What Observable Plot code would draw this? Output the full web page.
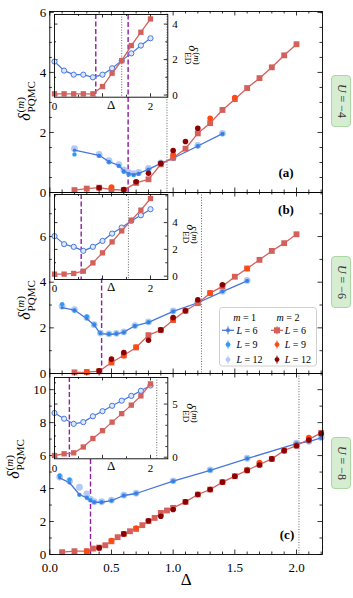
<!DOCTYPE html>
<html><head><meta charset="utf-8">
<script src="https://cdn.jsdelivr.net/npm/d3@7"></script>
<script src="https://cdn.jsdelivr.net/npm/@observablehq/plot@0.6"></script>
<style>
html,body{margin:0;padding:0;background:#fff;}
#fig{position:relative;width:353px;height:598px;overflow:hidden;font-family:"Liberation Serif","DejaVu Serif",serif;color:#000;}
.layer{position:absolute;}
.layer svg{overflow:visible;display:block;font-family:"Liberation Serif","DejaVu Serif",serif !important;}
.layer svg text{font-family:"Liberation Serif","DejaVu Serif",serif;}
.lbl{position:absolute;white-space:nowrap;line-height:1;}
.rotL{transform:translate(-50%,-50%) rotate(-90deg);}
.rotR{transform:translate(-50%,-50%) rotate(90deg);}
.dl{font-style:italic;}
.stk{display:inline-flex;flex-direction:column;line-height:1;margin-left:1px;}
.main .dl{font-size:16px;}
.main .stk{font-size:11px;vertical-align:6px;}
.ins .dl{font-size:13px;}
.ins .stk{font-size:9px;vertical-align:5px;}
.ubox{position:absolute;left:331px;width:20px;height:52px;background:#d6edd1;border:1px solid #abd7a2;border-radius:4px;box-sizing:border-box;}
.ut{position:absolute;left:50%;top:50%;transform:translate(-50%,-50%) rotate(90deg);white-space:nowrap;font-size:12px;color:#333;}
.plab{position:absolute;transform:translate(-50%,-50%);font-weight:bold;font-size:13px;white-space:nowrap;}
</style></head>
<body><div id="fig"></div>
<script>
// ---------------- data ----------------
const insetDelta = [0, 0.2, 0.4, 0.6, 0.8, 1.0, 1.2, 1.4, 1.6, 1.8, 2.0];

// panel (a), U = -4
const aM1Delta = [0.2, 0.4, 0.48, 0.56, 0.6, 0.64, 0.68, 0.72, 0.8, 0.9, 1.0, 1.2, 1.4];
const aM1L6  = [1.41, 1.24, 1.03, 0.90, 0.72, 0.63, 0.60, 0.64, 0.77, 0.97, 1.14, 1.55, 1.96];
const aM1L9  = [1.27, 1.22, 1.01, 0.88, 0.69, 0.60, 0.58, 0.62, 0.76, 0.96, 1.13, 1.54, 1.95];
const aM1L12 = [1.46, 1.27, 1.06, 0.93, 0.75, 0.66, 0.63, 0.67, 0.80, 0.99, 1.16, 1.57, 1.97];
const aM2Delta = [0.2, 0.3, 0.4, 0.5, 0.6, 0.7, 0.8, 0.9, 1.0, 1.1, 1.2, 1.3, 1.4, 1.5, 1.6, 1.7, 1.8, 1.9, 2.0];
const aM2L6  = [0.08, 0.13, 0.16, 0.10, 0.08, 0.32, 0.44, 0.94, 1.16, 1.46, 1.97, 2.31, 2.75, 3.11, 3.48, 3.81, 4.17, 4.57, 4.94];
const aM2L9Delta = [0.5, 1.0, 1.3, 1.5];
const aM2L9  = [0.18, 1.27, 2.47, 3.16];
const aM2L12Delta = [0.4, 0.6, 0.7, 0.8, 0.9, 1.0, 1.1, 1.2];
const aM2L12 = [0.16, 0.10, 0.36, 0.64, 0.97, 1.40, 1.70, 2.14];
const aInsetM1 = [1.89, 1.38, 1.15, 1.15, 1.00, 1.15, 1.51, 1.94, 2.35, 2.79, 3.20];
const aInsetM2 = [0.07, 0.07, 0.07, 0.07, 0.07, 0.48, 1.23, 1.94, 2.79, 3.54, 4.29];

// panel (b), U = -6
const bM1Delta = [0.1, 0.2, 0.3, 0.36, 0.41, 0.48, 0.54, 0.6, 0.69, 0.8, 1.0, 1.2, 1.4, 1.6];
const bM1L6  = [2.89, 2.78, 2.40, 2.12, 1.75, 1.72, 1.73, 1.81, 2.09, 2.24, 2.72, 3.10, 3.59, 4.06];
const bM1L9  = [3.04, 2.76, 2.50, 2.15, 1.78, 1.73, 1.75, 1.80, 2.08, 2.25, 2.72, 3.10, 3.60, 4.06];
const bM1L12 = [2.95, 2.80, 2.45, 2.14, 1.77, 1.74, 1.76, 1.82, 2.10, 2.26, 2.74, 3.12, 3.60, 4.08];
const bM2Delta = [0.2, 0.3, 0.4, 0.5, 0.6, 0.7, 0.8, 0.9, 1.0, 1.1, 1.2, 1.3, 1.4, 1.5, 1.6, 1.7, 1.8, 1.9, 2.0];
const bM2L6  = [0.05, 0.06, 0.10, 0.48, 0.80, 1.14, 1.68, 1.90, 2.34, 2.75, 3.08, 3.52, 3.82, 4.24, 4.60, 4.98, 5.37, 5.71, 6.10];
const bM2L9Delta = [0.3, 0.5, 0.6, 0.7, 1.0, 1.3, 1.6];
const bM2L9  = [0.07, 0.50, 0.78, 1.16, 2.36, 3.54, 4.60];
const bM2L12Delta = [0.4, 0.5, 0.6, 0.8, 0.9, 1.0, 1.1, 1.2, 1.4];
const bM2L12 = [0.12, 0.63, 0.92, 1.46, 1.91, 2.45, 2.75, 3.23, 3.89];
const bInsetM1 = [2.99, 2.39, 2.19, 1.89, 2.19, 2.63, 3.18, 3.63, 4.13, 4.55, 5.00];
const bInsetM2 = [0.15, 0.15, 0.20, 0.37, 0.99, 1.74, 2.56, 3.38, 4.18, 4.93, 5.80];

// panel (c), U = -8
const cM1Delta = [0.08, 0.16, 0.24, 0.3, 0.33, 0.36, 0.42, 0.5, 0.6, 0.7, 1.0, 1.3, 1.6, 2.0, 2.1, 2.2];
const cM1L6  = [4.65, 4.35, 3.64, 3.43, 3.27, 3.17, 3.17, 3.27, 3.58, 3.70, 4.45, 5.11, 5.82, 6.73, 6.85, 7.07];
const cM1L9  = [4.79, 4.55, 3.62, 3.45, 3.30, 3.18, 3.18, 3.27, 3.58, 3.70, 4.45, 5.11, 5.82, 6.73, 6.85, 7.07];
const cM1L12 = [4.70, 4.45, 4.08, 3.67, 3.35, 3.20, 3.20, 3.30, 3.60, 3.72, 4.47, 5.13, 5.84, 6.75, 6.87, 7.10];
const cM2Delta = [0.1, 0.2, 0.3, 0.35, 0.4, 0.45, 0.5, 0.55, 0.6, 0.65, 0.7, 0.75, 0.8, 0.85, 0.9, 0.95, 1.0, 1.1, 1.2, 1.3, 1.4, 1.5, 1.6, 1.7, 1.8, 1.9, 2.0, 2.1, 2.2];
const cM2L6  = [0.14, 0.20, 0.20, 0.36, 0.42, 0.56, 0.80, 1.05, 1.25, 1.41, 1.55, 1.78, 2.02, 2.22, 2.52, 2.67, 2.83, 3.19, 3.64, 3.94, 4.39, 4.75, 5.11, 5.46, 5.80, 6.31, 6.61, 6.98, 7.38];
const cM2L9Delta = [0.3, 0.5, 0.7, 1.6, 1.7, 2.1];
const cM2L9  = [0.20, 0.85, 1.60, 5.15, 5.58, 7.10];
const cM2L12Delta = [0.4, 0.6, 0.8, 0.9, 1.0, 1.1, 1.2, 1.3, 1.4, 1.5, 1.6, 1.7, 1.8, 1.9, 2.0, 2.1, 2.2];
const cM2L12 = [0.40, 1.25, 2.05, 2.32, 2.73, 3.19, 3.64, 3.94, 4.39, 4.75, 5.10, 5.43, 5.80, 6.30, 6.60, 6.95, 7.33];
const cInsetM1 = [4.16, 3.62, 3.14, 3.30, 3.85, 4.33, 4.84, 5.32, 5.77, 6.25, 6.75];
const cInsetM2 = [0.16, 0.32, 0.41, 0.96, 1.76, 2.50, 3.30, 4.10, 4.90, 5.77, 6.90];

// reference lines
const phaseDelta = [0.635, 0.42, 0.33];       // purple dashed, main panels
const phaseTop = [6.03, 4.15, 5.8];
const crossDelta = [0.95, 1.23, 2.02];        // gray dotted, main panels
const insetPhaseDelta = [0.86, 0.556, 0.31];
const insetCrossDelta = [1.40, 1.54, 2.13];

// labels & ticks
const panelNames = ["(a)", "(b)", "(c)"];
const uValues = ["−4", "−6", "−8"];
const xTicksMain = [0, 0.5, 1.0, 1.5, 2.0];
const yTicksMain = [[0, 2, 4, 6], [0, 2, 4, 6], [0, 2, 4, 6, 8, 10]];
const yMinorStep = [0.5, 1, 1];
const yDomains = [[0, 6.03], [0, 7.93], [0, 10.98]];
const xTicksInset = [0, 2];
const yTicksInset = [[0, 2, 4], [0, 2, 4], [0, 5]];
const yInsetDomains = [[-0.12, 4.54], [-0.25, 6.1], [-0.15, 7.5]];
const legendRowsL = ["6", "9", "12"];

// ---------------- styling / layout ----------------
const LINE_BLUE = "#4677e0", BLUE_L9 = "#2c9cf2", BLUE_L12 = "#b3caf2";
const RED_L6 = "#d4605c", RED_L9 = "#ff4a12", RED_L12 = "#8b0000";
const PURPLE = "#8f1ea0", DOT_GRAY = "#555";
const FONT = "'Liberation Serif', 'DejaVu Serif', serif";
const FRAME_L = 49.3, FRAME_R = 322, FRAME_H = 181;
const panelTops = [11, 192, 373];
const INSET_L = 54.3, INSET_R = 167.6, INSET_PX = 48;
const insetFrames = [[14, 96.7], [194, 279], [377, 458.3]];
const intFmt = d3.format("d");

const FIG = document.getElementById("fig");
function place(node, left, top, w) {
  const div = document.createElement("div");
  div.className = "layer";
  div.style.left = left + "px"; div.style.top = top + "px"; div.style.width = w + "px";
  div.appendChild(node); FIG.appendChild(div);
}
const pts = (xs, ys) => xs.map((x, i) => ({x, y: ys[i]}));
const notIn = (arr, maj) => arr.filter(v => !maj.some(m => Math.abs(m - v) < 1e-9));
const K = {stroke: "#000", strokeWidth: 0.8};
function tickMarks(xMaj, xMin, yMaj, yMin, W, H, big, small) {
  return [
    Plot.ruleX(xMaj, {x: d => d, insetTop: H - big, ...K}),
    Plot.ruleX(xMaj, {x: d => d, insetBottom: H - big, ...K}),
    Plot.ruleX(xMin, {x: d => d, insetTop: H - small, ...K}),
    Plot.ruleX(xMin, {x: d => d, insetBottom: H - small, ...K}),
    Plot.ruleY(yMaj, {y: d => d, insetRight: W - big, ...K}),
    Plot.ruleY(yMaj, {y: d => d, insetLeft: W - big, ...K}),
    Plot.ruleY(yMin, {y: d => d, insetRight: W - small, ...K}),
    Plot.ruleY(yMin, {y: d => d, insetLeft: W - small, ...K})
  ];
}

const panels = [
  {m1Delta: aM1Delta, m1L6: aM1L6, m1L9: aM1L9, m1L12: aM1L12, m2Delta: aM2Delta, m2L6: aM2L6,
   m2L9Delta: aM2L9Delta, m2L9: aM2L9, m2L12Delta: aM2L12Delta, m2L12: aM2L12, insetM1: aInsetM1, insetM2: aInsetM2},
  {m1Delta: bM1Delta, m1L6: bM1L6, m1L9: bM1L9, m1L12: bM1L12, m2Delta: bM2Delta, m2L6: bM2L6,
   m2L9Delta: bM2L9Delta, m2L9: bM2L9, m2L12Delta: bM2L12Delta, m2L12: bM2L12, insetM1: bInsetM1, insetM2: bInsetM2},
  {m1Delta: cM1Delta, m1L6: cM1L6, m1L9: cM1L9, m1L12: cM1L12, m2Delta: cM2Delta, m2L6: cM2L6,
   m2L9Delta: cM2L9Delta, m2L9: cM2L9, m2L12Delta: cM2L12Delta, m2L12: cM2L12, insetM1: cInsetM1, insetM2: cInsetM2}
];

const STYLE = {background: "none", maxWidth: "none", overflow: "visible", fontFamily: FONT, fontSize: "13px"};

function drawMain(i, S) {
  const W = FRAME_R - FRAME_L, H = FRAME_H;
  const mt = 6, mb = i === 2 ? 46 : 6;
  const yMaj = yTicksMain[i];
  const yMin = notIn(d3.range(0, yDomains[i][1] + 1e-9, yMinorStep[i]), yMaj);
  const xMin = notIn(d3.range(0, 2.2101, 0.1), xTicksMain);
  const marks = [
    ...tickMarks(xTicksMain, xMin, yMaj, yMin, W, H, 4.5, 2.5),
    Plot.ruleX([crossDelta[i]], {x: d => d, stroke: DOT_GRAY, strokeWidth: 0.9, strokeDasharray: "1,1.6"}),
    Plot.ruleX([{x: phaseDelta[i], y1: 0, y2: phaseTop[i]}], {x: "x", y1: "y1", y2: "y2", stroke: PURPLE, strokeWidth: 1.4, strokeDasharray: "5,2.5"}),
    Plot.dot(pts(S.m1Delta, S.m1L12), {x: "x", y: "y", r: 3.4, fill: BLUE_L12}),
    Plot.line(pts(S.m1Delta, S.m1L6), {x: "x", y: "y", stroke: LINE_BLUE, strokeWidth: 1.3}),
    Plot.dot(pts(S.m1Delta, S.m1L9), {x: "x", y: "y", r: 2.2, fill: BLUE_L9}),
    Plot.dot(pts(S.m1Delta, S.m1L6), {x: "x", y: "y", r: 1.6, fill: LINE_BLUE}),
    Plot.line(pts(S.m2Delta, S.m2L6), {x: "x", y: "y", stroke: RED_L6, strokeWidth: 1.3}),
    Plot.dot(pts(S.m2Delta, S.m2L6), {x: "x", y: "y", symbol: "square", r: 3.3, fill: RED_L6}),
    Plot.dot(pts(S.m2L9Delta, S.m2L9), {x: "x", y: "y", r: 2.8, fill: RED_L9}),
    Plot.dot(pts(S.m2L12Delta, S.m2L12), {x: "x", y: "y", r: 2.8, fill: RED_L12}),
    Plot.frame({stroke: "#000", strokeWidth: 0.9}),
    Plot.axisY({ticks: yMaj, tickSize: 0, tickPadding: 3.5, tickFormat: intFmt, label: null, fontSize: 13, fontFamily: FONT})
  ];
  if (i === 2) {
    marks.push(
      Plot.axisX({ticks: xTicksMain, tickSize: 0, tickPadding: 8, tickFormat: d3.format(".1f"), label: null, fontSize: 13, fontFamily: FONT}),
      Plot.text(["Δ"], {text: d => d, frameAnchor: "bottom", dy: 30, fontSize: 17, fontFamily: FONT})
    );
  }
  const svg = Plot.plot({
    width: 353, height: mt + H + mb,
    marginLeft: FRAME_L, marginRight: 353 - FRAME_R, marginTop: mt, marginBottom: mb,
    x: {domain: [0, (FRAME_R - FRAME_L) / 123.35], axis: i === 2 ? undefined : null},
    y: {domain: yDomains[i]},
    style: STYLE,
    marks
  });
  place(svg, 0, panelTops[i] - mt, 353);
}

function drawInset(i, S) {
  const [top, bottom] = insetFrames[i];
  const W = INSET_R - INSET_L, H = bottom - top;
  const ml = 8, mr = 24, mt = 4, mb = 22;
  const yMaj = yTicksInset[i];
  const yMin = notIn(d3.range(Math.ceil(yInsetDomains[i][0]), yInsetDomains[i][1], 1), yMaj);
  const xMaj = [0, 1, 2];
  const xMin = [0.5, 1.5];
  const m1 = pts(insetDelta, S.insetM1), m2 = pts(insetDelta, S.insetM2);
  const marks = [
    ...tickMarks(xMaj, xMin, yMaj, yMin, W, H, 3.5, 2),
    Plot.ruleX([insetCrossDelta[i]], {x: d => d, stroke: DOT_GRAY, strokeWidth: 0.9, strokeDasharray: "1,1.6"}),
    Plot.ruleX([insetPhaseDelta[i]], {x: d => d, stroke: PURPLE, strokeWidth: 1.4, strokeDasharray: "5,2.5"}),
    Plot.line(m1, {x: "x", y: "y", stroke: LINE_BLUE, strokeWidth: 1.2}),
    Plot.dot(m1, {x: "x", y: "y", r: 2.6, stroke: LINE_BLUE, fill: "#dfe8fb", strokeWidth: 1}),
    Plot.line(m2, {x: "x", y: "y", stroke: RED_L6, strokeWidth: 1.3}),
    Plot.dot(m2, {x: "x", y: "y", symbol: "square", r: 3, fill: RED_L6}),
    Plot.frame({stroke: "#000", strokeWidth: 0.9}),
    Plot.axisX({ticks: xTicksInset, tickSize: 0, tickPadding: 5, tickFormat: intFmt, label: null, fontSize: 11, fontFamily: FONT}),
    Plot.axisY({anchor: "right", ticks: yMaj, tickSize: 0, tickPadding: 4.5, tickFormat: intFmt, label: null, fontSize: 11, fontFamily: FONT}),
    Plot.text(["Δ"], {text: d => d, frameAnchor: "bottom", dy: 11.5, fontSize: 13, fontFamily: FONT})
  ];
  const svg = Plot.plot({
    width: ml + W + mr, height: mt + H + mb,
    marginLeft: ml, marginRight: mr, marginTop: mt, marginBottom: mb,
    x: {domain: [0, W / INSET_PX]},
    y: {domain: yInsetDomains[i]},
    style: {...STYLE, fontSize: "11px"},
    marks
  });
  place(svg, INSET_L - ml, top - mt, ml + W + mr);
}

panels.forEach((S, i) => drawMain(i, S));
panels.forEach((S, i) => drawInset(i, S));

// ---------------- text overlays ----------------
function addHTML(html) { FIG.insertAdjacentHTML("beforeend", html); }
const mainLabelPos = [[25.5, 101], [25.5, 300], [14.5, 459]];
const insetLabelPos = [[192, 55], [190, 234], [190, 413]];
const panelLabelPos = [[286, 173], [286, 210], [287, 535]];
const uTops = [75, 255.7, 436.7];
mainLabelPos.forEach(([x, y]) => addHTML(
  `<div class="lbl rotL main" style="left:${x}px;top:${y}px"><span class="dl">δ</span><span class="stk"><span>(<i>m</i>)</span><span>PQMC</span></span></div>`));
insetLabelPos.forEach(([x, y]) => addHTML(
  `<div class="lbl rotR ins" style="left:${x}px;top:${y}px"><span class="dl">δ</span><span class="stk"><span>(<i>m</i>)</span><span>ED</span></span></div>`));
panelLabelPos.forEach(([x, y], i) => addHTML(`<div class="plab" style="left:${x}px;top:${y}px">${panelNames[i]}</div>`));
uTops.forEach((t, i) => addHTML(`<div class="ubox" style="top:${t}px"><span class="ut"><i>U</i> = ${uValues[i]}</span></div>`));

// legend (panel b)
(function () {
  const rowsY = [23.3, 37.6, 52.6];
  const cols = [
    {m: "1", cx: 25.7, mx: 9, tx: 17.4, colors: [LINE_BLUE, BLUE_L9, BLUE_L12], sq: false},
    {m: "2", cx: 69, mx: 58, tx: 65.7, colors: [RED_L6, RED_L9, RED_L12], sq: true}
  ];
  let s = `<svg width="98" height="60" style="position:absolute;left:219.3px;top:306.7px;overflow:visible" font-family="Liberation Serif, serif" font-size="10">`;
  s += `<rect x="0.5" y="0.5" width="97" height="58.5" rx="3" fill="rgba(255,255,255,0.85)" stroke="#d0d0d0" stroke-width="1"/>`;
  cols.forEach(c => {
    s += `<text x="${c.cx}" y="10" dy="0.35em" text-anchor="middle"><tspan font-style="italic">m</tspan> = ${c.m}</text>`;
    rowsY.forEach((y, r) => {
      const col = c.colors[r];
      if (r === 0) s += `<line x1="${c.mx - 6}" x2="${c.mx + 6}" y1="${y}" y2="${y}" stroke="${col}" stroke-width="1.3"/>`;
      s += `<line x1="${c.mx}" x2="${c.mx}" y1="${y - 4}" y2="${y + 4}" stroke="${col}" stroke-width="1"/>`;
      if (r === 0 && c.sq) s += `<rect x="${c.mx - 3}" y="${y - 3}" width="6" height="6" fill="${col}"/>`;
      else s += `<circle cx="${c.mx}" cy="${y}" r="${r === 0 ? 2 : 2.4}" fill="${col}"/>`;
      s += `<text x="${c.tx}" y="${y}" dy="0.35em"><tspan font-style="italic">L</tspan> = ${legendRowsL[r]}</text>`;
    });
  });
  s += `</svg>`;
  addHTML(s);
})();
</script>
</body></html>
